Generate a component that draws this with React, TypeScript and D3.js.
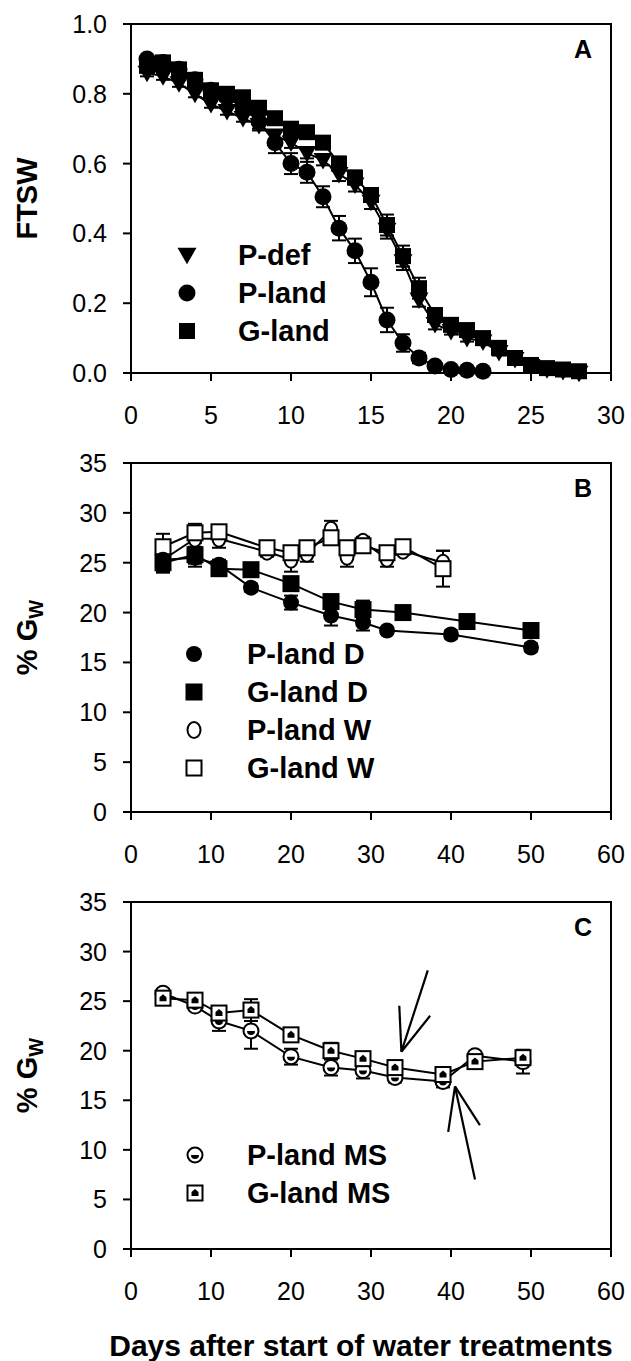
import React, { useEffect } from "react";
import * as d3 from "d3";

// ---- Panel A: FTSW vs days ----
const pdefDays = [1, 2, 3, 4, 5, 6, 7, 8, 9, 10, 11, 12, 13, 14, 15, 16, 17, 18, 19, 20, 21, 22, 23, 24, 25, 26, 27, 28];
const pdefFtsw = [0.86, 0.85, 0.83, 0.8, 0.77, 0.75, 0.73, 0.71, 0.68, 0.66, 0.63, 0.61, 0.57, 0.54, 0.49, 0.41, 0.32, 0.21, 0.14, 0.12, 0.1, 0.09, 0.06, 0.04, 0.02, 0.01, 0.005, 0.0];
const pdefErr = [0.01, 0.01, 0.01, 0.01, 0.01, 0.01, 0.01, 0.015, 0.015, 0.015, 0.015, 0.015, 0.02, 0.02, 0.02, 0.025, 0.025, 0.02, 0.015, 0.01, 0.01, 0.01, 0.01, 0.005, 0.005, 0.005, 0.005, 0.005];

const plandDays = [1, 2, 3, 4, 5, 6, 7, 8, 9, 10, 11, 12, 13, 14, 15, 16, 17, 18, 19, 20, 21, 22];
const plandFtsw = [0.9, 0.89, 0.87, 0.84, 0.81, 0.79, 0.76, 0.72, 0.66, 0.6, 0.575, 0.505, 0.415, 0.35, 0.26, 0.152, 0.086, 0.043, 0.02, 0.01, 0.008, 0.005];
const plandErr = [0.005, 0.005, 0.005, 0.005, 0.01, 0.01, 0.015, 0.02, 0.03, 0.03, 0.03, 0.03, 0.035, 0.035, 0.04, 0.035, 0.025, 0.015, 0.01, 0.005, 0.005, 0.005];

const glandDays = [1, 2, 3, 4, 5, 6, 7, 8, 9, 10, 11, 12, 13, 14, 15, 16, 17, 18, 19, 20, 21, 22, 23, 24, 25, 26, 27, 28];
const glandFtsw = [0.88, 0.89, 0.87, 0.84, 0.81, 0.8, 0.79, 0.76, 0.73, 0.7, 0.69, 0.66, 0.6, 0.56, 0.51, 0.424, 0.335, 0.243, 0.166, 0.138, 0.123, 0.1, 0.072, 0.043, 0.023, 0.014, 0.01, 0.005];
const glandErr = [0.01, 0.01, 0.01, 0.01, 0.01, 0.01, 0.01, 0.015, 0.015, 0.015, 0.015, 0.015, 0.02, 0.02, 0.02, 0.03, 0.03, 0.03, 0.02, 0.015, 0.01, 0.01, 0.01, 0.005, 0.005, 0.005, 0.005, 0.005];

// ---- Panel B: %GW, drought (D) and well watered (W) ----
const plandDDays = [4, 8, 11, 15, 20, 25, 29, 32, 40, 50];
const plandDGw = [25.3, 25.5, 24.8, 22.5, 21.0, 19.7, 19.0, 18.2, 17.8, 16.5];
const plandDErr = [0.8, 0.6, 0.5, 0.4, 0.7, 1.0, 0.8, 0.3, 0.4, 0.4];

const glandDDays = [4, 8, 11, 15, 20, 25, 29, 34, 42, 50];
const glandDGw = [25.0, 25.8, 24.4, 24.3, 22.9, 21.1, 20.3, 20.0, 19.1, 18.2];
const glandDErr = [1.0, 1.2, 0.4, 0.3, 0.6, 0.7, 0.9, 0.3, 0.3, 0.3];

const plandWDays = [4, 8, 11, 17, 20, 22, 25, 27, 29, 32, 34, 39];
const plandWGw = [25.3, 27.4, 27.4, 26.1, 25.3, 25.9, 28.3, 25.6, 27.1, 25.4, 26.2, 25.0];
const plandWErr = [1.2, 0.8, 0.9, 0.5, 1.2, 0.8, 0.9, 1.0, 0.5, 0.8, 0.4, 1.2];

const glandWDays = [4, 8, 11, 17, 20, 22, 25, 27, 29, 32, 34, 39];
const glandWGw = [26.6, 28.0, 28.1, 26.5, 26.0, 26.5, 27.5, 26.5, 26.7, 26.0, 26.6, 24.4];
const glandWErr = [1.3, 0.9, 0.5, 0.4, 0.6, 0.4, 0.5, 0.6, 0.4, 0.5, 0.4, 1.8];

// ---- Panel C: %GW, MS treatment ----
const msDays = [4, 8, 11, 15, 20, 25, 29, 33, 39, 43, 49];
const plandMsGw = [25.8, 24.5, 23.0, 22.0, 19.4, 18.3, 18.0, 17.3, 16.9, 19.5, 18.9];
const plandMsErr = [0.4, 0.4, 1.0, 1.8, 0.8, 0.8, 0.8, 0.5, 0.6, 0.4, 1.2];
const glandMsGw = [25.3, 25.1, 23.8, 24.1, 21.6, 20.0, 19.2, 18.3, 17.6, 18.9, 19.3];
const glandMsErr = [0.4, 0.4, 0.5, 1.1, 0.6, 0.8, 0.5, 0.4, 0.4, 0.4, 0.4];

// arrows in panel C: [tailDay, tailGw, tipDay, tipGw]
const arrowsC = [
  [37.1, 28.1, 33.8, 19.9],
  [43.0, 7.0, 40.5, 16.4],
];

// ticks
const xTicksA = [0, 5, 10, 15, 20, 25, 30];
const yTicksA = [0, 0.2, 0.4, 0.6, 0.8, 1.0];
const xTicksBC = [0, 10, 20, 30, 40, 50, 60];
const yTicksBC = [0, 5, 10, 15, 20, 25, 30, 35];

const FONT = "'Liberation Sans', Arial, sans-serif";
const LEFT = 131;
const RIGHT = 611;

const zip = (xs, ys, es) => xs.map((d, i) => ({ x: d, y: ys[i], e: es ? es[i] : 0 }));

const Marker = ({ shape, cx, cy, s }) => {
  const h = s / 2;
  switch (shape) {
    case "circle":
      return <circle cx={cx} cy={cy} r={h} fill="#000" />;
    case "square":
      return <rect x={cx - h} y={cy - h} width={s} height={s} fill="#000" />;
    case "tri":
      return (
        <path
          d={`M${cx - h - 1},${cy - s * 0.42}L${cx + h + 1},${cy - s * 0.42}L${cx},${cy + s * 0.55}Z`}
          fill="#000"
        />
      );
    case "circleOpen":
      return <ellipse cx={cx} cy={cy} rx={h - 1.5} ry={h} fill="#fff" stroke="#000" strokeWidth={2} />;
    case "squareOpen":
      return <rect x={cx - h + 1} y={cy - h + 1} width={s - 2} height={s - 2} fill="#fff" stroke="#000" strokeWidth={2} />;
    case "circleDot":
      return (
        <g>
          <circle cx={cx} cy={cy} r={h - 1} fill="#fff" stroke="#000" strokeWidth={2} />
          <path d={`M${cx - 4},${cy}A4,4 0 0 0 ${cx + 4},${cy}Z`} fill="#000" />
        </g>
      );
    case "squareDot":
      return (
        <g>
          <rect x={cx - h + 1} y={cy - h + 1} width={s - 2} height={s - 2} fill="#fff" stroke="#000" strokeWidth={2} />
          <path d={`M${cx - 3.5},${cy + 3}L${cx - 3.5},${cy - 1}L${cx},${cy - 4}L${cx + 3.5},${cy - 1}L${cx + 3.5},${cy + 3}Z`} fill="#000" />
        </g>
      );
    default:
      return null;
  }
};

const Panel = ({ top, bottom, xDomain, xTicks, yDomain, yTicks, yFmt, series, letter, legend, yLabel, arrows }) => {
  const x = d3.scaleLinear().domain(xDomain).range([LEFT, RIGHT]);
  const y = d3.scaleLinear().domain(yDomain).range([bottom, top]);
  const line = d3
    .line()
    .x((d) => x(d.x))
    .y((d) => y(d.y));
  const midY = (top + bottom) / 2;

  return (
    <g>
      {/* series lines */}
      {series.map((s, i) => (
        <path key={"l" + i} d={line(s.pts)} fill="none" stroke="#000" strokeWidth={2} />
      ))}
      {/* error bars */}
      {series.map((s, i) =>
        s.pts
          .filter((p) => p.e > 0)
          .map((p, j) => (
            <g key={"e" + i + "-" + j} stroke="#000" strokeWidth={2}>
              <line x1={x(p.x)} x2={x(p.x)} y1={y(p.y - p.e)} y2={y(p.y + p.e)} />
              <line x1={x(p.x) - 7} x2={x(p.x) + 7} y1={y(p.y - p.e)} y2={y(p.y - p.e)} />
              <line x1={x(p.x) - 7} x2={x(p.x) + 7} y1={y(p.y + p.e)} y2={y(p.y + p.e)} />
            </g>
          ))
      )}
      {/* markers */}
      {series.map((s, i) =>
        s.pts.map((p, j) => <Marker key={"m" + i + "-" + j} shape={s.shape} cx={x(p.x)} cy={y(p.y)} s={s.size} />)
      )}

      {/* annotation arrows */}
      {arrows &&
        arrows.map((a, i) => {
          const x1 = x(a[0]);
          const y1 = y(a[1]);
          const x2 = x(a[2]);
          const y2 = y(a[3]);
          const ang = Math.atan2(y1 - y2, x1 - x2);
          const len = 46;
          const spread = 0.36;
          return (
            <g key={"a" + i} stroke="#000" strokeWidth={2.2} fill="none">
              <line x1={x1} y1={y1} x2={x2} y2={y2} />
              <line x1={x2} y1={y2} x2={x2 + len * Math.cos(ang - spread)} y2={y2 + len * Math.sin(ang - spread)} />
              <line x1={x2} y1={y2} x2={x2 + len * Math.cos(ang + spread)} y2={y2 + len * Math.sin(ang + spread)} />
            </g>
          );
        })}

      {/* frame */}
      <rect x={LEFT} y={top} width={RIGHT - LEFT} height={bottom - top} fill="none" stroke="#000" strokeWidth={2} />

      {/* y axis ticks */}
      {yTicks.map((t) => (
        <g key={"yt" + t}>
          <line x1={LEFT - 8} x2={LEFT} y1={y(t)} y2={y(t)} stroke="#000" strokeWidth={2} />
          <text x={107} y={y(t)} dy="0.36em" textAnchor="end" fontSize={25} fontFamily={FONT}>
            {yFmt(t)}
          </text>
        </g>
      ))}
      {/* x axis ticks */}
      {xTicks.map((t) => (
        <g key={"xt" + t}>
          <line x1={x(t)} x2={x(t)} y1={bottom} y2={bottom + 8} stroke="#000" strokeWidth={2} />
          <text x={x(t)} y={bottom + 51} textAnchor="middle" fontSize={25} fontFamily={FONT}>
            {t}
          </text>
        </g>
      ))}

      {/* panel letter */}
      <text x={592} y={top + 34} textAnchor="end" fontSize={25} fontWeight="bold" fontFamily={FONT}>
        {letter}
      </text>

      {/* legend */}
      {legend.items.map((it, i) => {
        const ly = legend.y + i * legend.step;
        return (
          <g key={"lg" + i}>
            <Marker shape={it.shape} cx={legend.x} cy={ly} s={it.size} />
            <text x={legend.x + legend.dx} y={ly + 10} fontSize={29} fontWeight="bold" fontFamily={FONT}>
              {it.label}
            </text>
          </g>
        );
      })}

      {/* y axis title */}
      <text
        transform={`translate(37,${midY}) rotate(-90)`}
        textAnchor="middle"
        fontSize={29}
        fontWeight="bold"
        fontFamily={FONT}
      >
        {yLabel === "FTSW" ? (
          "FTSW"
        ) : (
          <>
            <tspan>% G</tspan>
            <tspan fontSize={20} dy={6}>
              W
            </tspan>
          </>
        )}
      </text>
    </g>
  );
};

const App = () => {
  useEffect(() => {
    document.body.style.margin = "0";
  }, []);

  const seriesA = [
    { shape: "tri", size: 17, pts: zip(pdefDays, pdefFtsw, pdefErr) },
    { shape: "circle", size: 17, pts: zip(plandDays, plandFtsw, plandErr) },
    { shape: "square", size: 16, pts: zip(glandDays, glandFtsw, glandErr) },
  ];
  const seriesB = [
    { shape: "circleOpen", size: 16, pts: zip(plandWDays, plandWGw, plandWErr) },
    { shape: "squareOpen", size: 17, pts: zip(glandWDays, glandWGw, glandWErr) },
    { shape: "circle", size: 16, pts: zip(plandDDays, plandDGw, plandDErr) },
    { shape: "square", size: 17, pts: zip(glandDDays, glandDGw, glandDErr) },
  ];
  const seriesC = [
    { shape: "circleDot", size: 17, pts: zip(msDays, plandMsGw, plandMsErr) },
    { shape: "squareDot", size: 17, pts: zip(msDays, glandMsGw, glandMsErr) },
  ];

  return (
    <svg width={631} height={1361} style={{ display: "block", background: "#fff" }}>
      <Panel
        top={24}
        bottom={373}
        xDomain={[0, 30]}
        xTicks={xTicksA}
        yDomain={[0, 1]}
        yTicks={yTicksA}
        yFmt={d3.format(".1f")}
        series={seriesA}
        letter="A"
        yLabel="FTSW"
        legend={{
          x: 187,
          y: 255,
          step: 38,
          dx: 51,
          items: [
            { shape: "tri", size: 17, label: "P-def" },
            { shape: "circle", size: 17, label: "P-land" },
            { shape: "square", size: 16, label: "G-land" },
          ],
        }}
      />
      <Panel
        top={463}
        bottom={812}
        xDomain={[0, 60]}
        xTicks={xTicksBC}
        yDomain={[0, 35]}
        yTicks={yTicksBC}
        yFmt={d3.format("d")}
        series={seriesB}
        letter="B"
        yLabel="GW"
        legend={{
          x: 194,
          y: 654,
          step: 38,
          dx: 53,
          items: [
            { shape: "circle", size: 16, label: "P-land D" },
            { shape: "square", size: 17, label: "G-land D" },
            { shape: "circleOpen", size: 16, label: "P-land W" },
            { shape: "squareOpen", size: 17, label: "G-land W" },
          ],
        }}
      />
      <Panel
        top={902}
        bottom={1249}
        xDomain={[0, 60]}
        xTicks={xTicksBC}
        yDomain={[0, 35]}
        yTicks={yTicksBC}
        yFmt={d3.format("d")}
        series={seriesC}
        letter="C"
        yLabel="GW"
        arrows={arrowsC}
        legend={{
          x: 195,
          y: 1155,
          step: 38,
          dx: 52,
          items: [
            { shape: "circleDot", size: 17, label: "P-land MS" },
            { shape: "squareDot", size: 17, label: "G-land MS" },
          ],
        }}
      />
      <text x={361} y={1356} textAnchor="middle" fontSize={30} fontWeight="bold" fontFamily={FONT}>
        Days after start of water treatments
      </text>
    </svg>
  );
};

export default App;
